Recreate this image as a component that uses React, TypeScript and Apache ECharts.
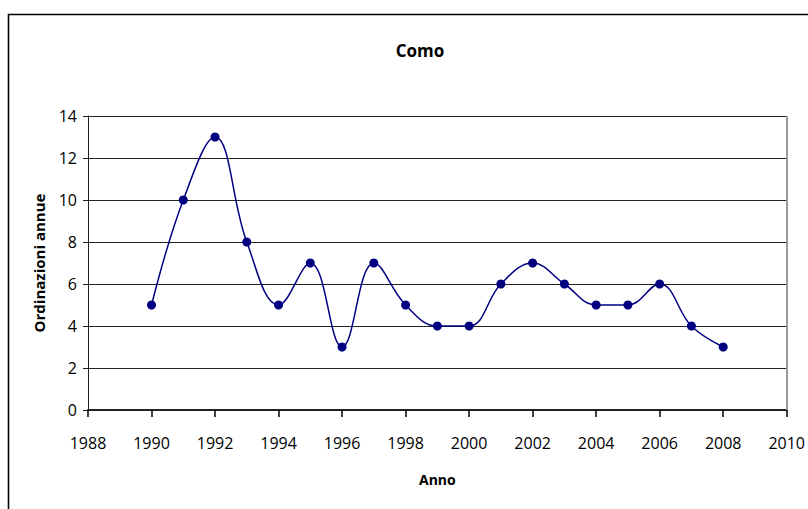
import React, { useEffect, useRef } from "react";
import * as echarts from "echarts";

const years = [1990, 1991, 1992, 1993, 1994, 1995, 1996, 1997, 1998, 1999, 2000, 2001, 2002, 2003, 2004, 2005, 2006, 2007, 2008];
const values = [5, 10, 13, 8, 5, 7, 3, 7, 5, 4, 4, 6, 7, 6, 5, 5, 6, 4, 3];
const title = "Como";
const xName = "Anno";
const yName = "Ordinazioni annue";

export default function App() {
  const ref = useRef<HTMLDivElement>(null);
  useEffect(() => {
    if (!ref.current) return;
    const chart = echarts.init(ref.current, null, { renderer: "svg" });
    const font = "'Open Sans', sans-serif";
    chart.setOption({
      animation: false,
      backgroundColor: "#fff",
      title: {
        text: title,
        left: 415,
        top: 37,
        textAlign: "center",
        textStyle: { fontFamily: font, fontSize: 17, fontWeight: "bold", color: "#000" },
      },
      graphic: [
        {
          type: "rect",
          shape: { x: 8.5, y: 14.5, width: 900, height: 600 },
          style: { fill: "none", stroke: "#000", lineWidth: 1.6 },
          z: 100,
        },
        {
          type: "line",
          shape: { x1: 787, y1: 116, x2: 787, y2: 410 },
          style: { stroke: "#999", lineWidth: 2 },
          z: 50,
        },
      ],
      grid: { left: 88, top: 116, right: 21, bottom: 99, containLabel: false },
      xAxis: {
        type: "value",
        min: 1988,
        max: 2010,
        interval: 2,
        name: xName,
        nameLocation: "middle",
        nameGap: 62,
        nameTextStyle: { fontFamily: font, fontSize: 14, fontWeight: "bold", color: "#000" },
        axisLine: { show: true, onZero: false, lineStyle: { color: "#222", width: 2 } },
        axisTick: { show: true, inside: false, length: 7, lineStyle: { color: "#000", width: 1.5 } },
        axisLabel: { fontFamily: font, fontSize: 16, color: "#000", margin: 25, formatter: (v: number) => String(v) },
        splitLine: { show: false },
      },
      yAxis: {
        type: "value",
        min: 0,
        max: 14,
        interval: 2,
        name: yName,
        nameLocation: "middle",
        nameGap: 42,
        nameTextStyle: { fontFamily: font, fontSize: 15, fontWeight: "bold", color: "#000" },
        axisLine: { show: true, lineStyle: { color: "#222", width: 1 } },
        axisTick: { show: true, inside: false, length: 5, lineStyle: { color: "#222" } },
        axisLabel: { fontFamily: font, fontSize: 16, color: "#000", margin: 11 },
        splitLine: { show: true, lineStyle: { color: "#222", width: 1 } },
      },
      series: [
        {
          type: "line",
          data: years.map((y, i) => [y, values[i]]),
          smooth: 0.4,
          symbol: "circle",
          symbolSize: 9,
          itemStyle: { color: "#000080" },
          lineStyle: { color: "#000080", width: 1.5 },
          z: 10,
        },
      ],
    });
    return () => chart.dispose();
  }, []);
  return <div ref={ref} style={{ width: 808, height: 509, position: "absolute", left: 0, top: 0 }} />;
}
